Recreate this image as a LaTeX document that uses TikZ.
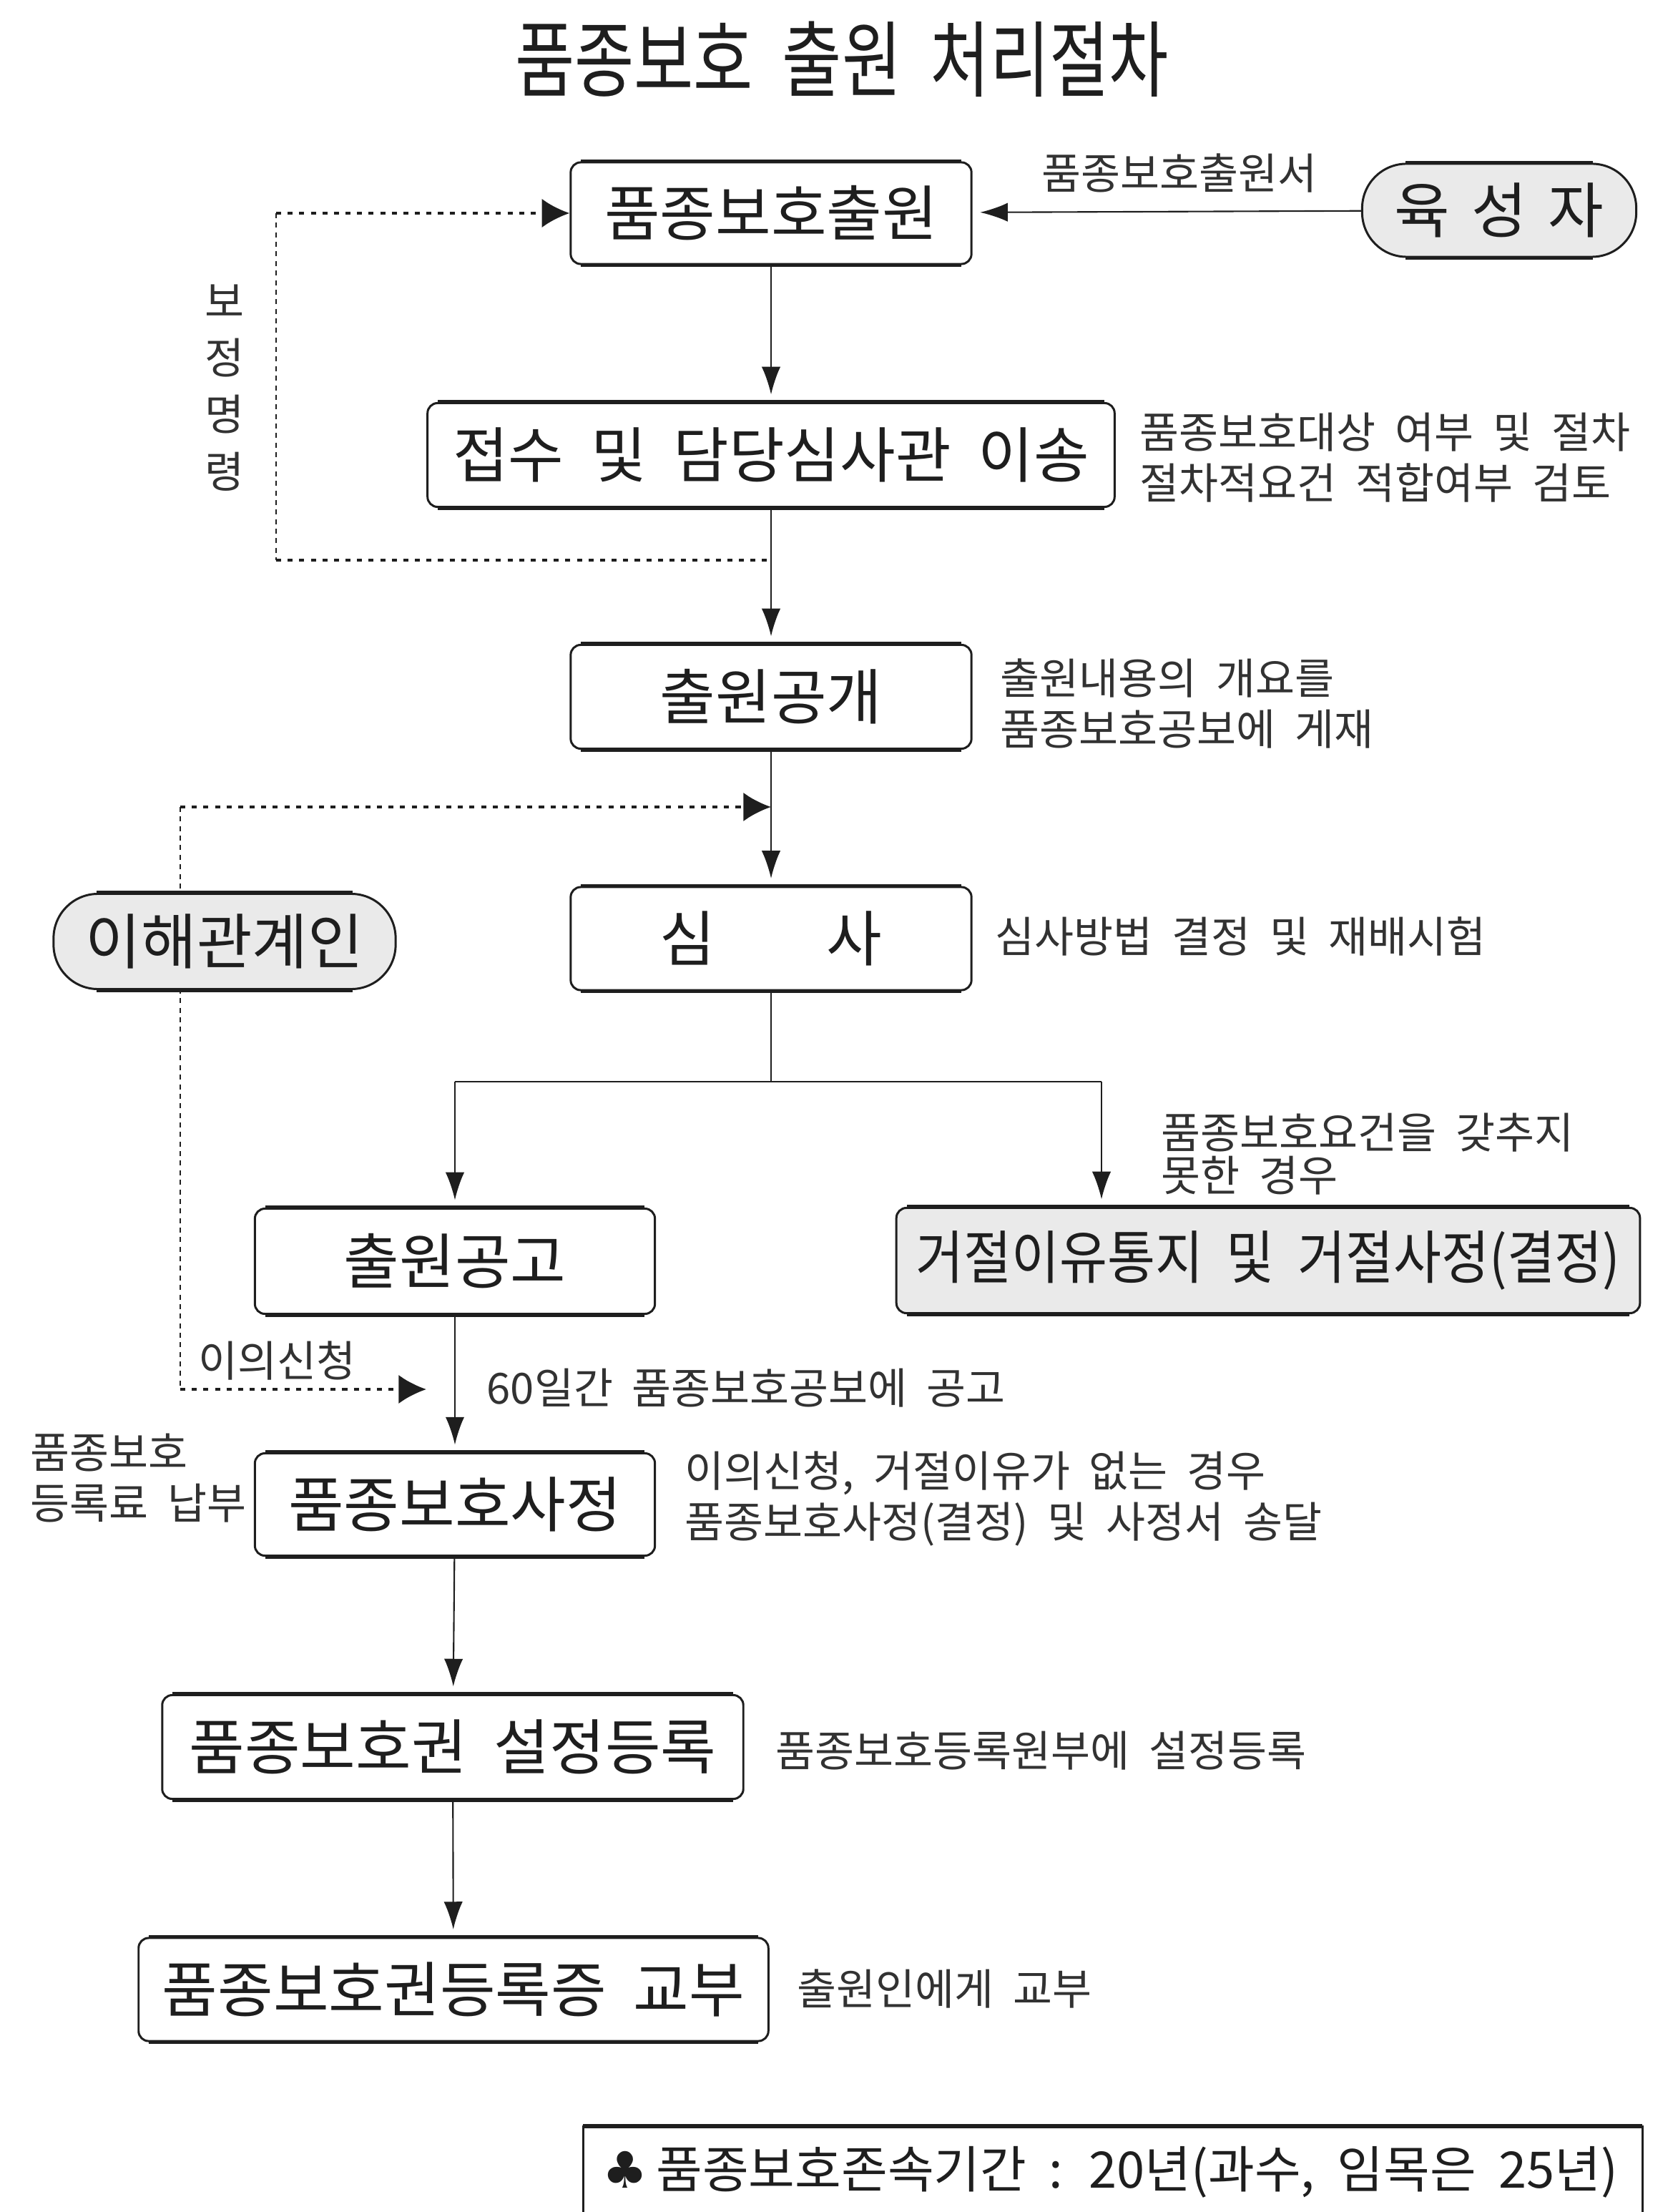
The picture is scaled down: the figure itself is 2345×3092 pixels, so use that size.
\documentclass[tikz,border=0pt]{standalone}
\usepackage{fontspec}
\usepackage{graphicx}
\setmainfont{Noto Sans CJK KR}[WordSpace=2.0]
\newfontfamily\symfont{DejaVu Sans}
\usetikzlibrary{arrows.meta}
\definecolor{boxgray}{RGB}{234,234,234}
\definecolor{ink}{RGB}{30,30,30}
\definecolor{sideink}{RGB}{50,50,50}
\tikzset{
  stepbox/.style={draw=ink, line width=0.85pt, rounded corners=4pt, fill=white,
    inner sep=0pt, text=ink, font=\fontsize{24}{28}\selectfont},
  pillbox/.style={stepbox, rounded corners=0.62cm, fill=boxgray},
  graybox/.style={stepbox, fill=boxgray},
  side/.style={inner sep=0pt, text=sideink, align=left, font=\fontsize{17}{20.2}\selectfont},
  flow/.style={draw=ink, line width=0.6pt, -{Latex[length=11pt,width=7.5pt]}, shorten >=3pt},
  plain/.style={draw=ink, line width=0.6pt},
  hdot/.style={draw=ink, line width=1.1pt, dash pattern=on 2pt off 2.6pt},
  hdotarrow/.style={hdot, -{Latex[length=11pt,width=11.5pt]}},
  vdash/.style={draw=ink, line width=0.5pt, dash pattern=on 2pt off 1.8pt},
  edge/.style={draw=ink, line width=1.5pt}
}
\begin{document}
\begin{tikzpicture}[x=0.01cm,y=-0.01cm]
\useasboundingbox (0,0) rectangle (2345,3092);
\fill[white] (0,0) rectangle (2345,3092);

% title
\node[inner sep=0pt, text=ink, font=\fontsize{33}{36}\selectfont] (title) at (1177,83) {\scalebox{0.78}[1]{품종보호 출원 처리절차}};

% dashed/dotted helper coordinates
\coordinate (l1) at (386,298);
\coordinate (l2) at (386,783);
\coordinate (l3) at (1078,783);
\coordinate (m1) at (252,1128);
\coordinate (m2) at (1078,1128);
\coordinate (m3) at (252,1942);
\coordinate (m4) at (596,1942);
\coordinate (br) at (1078,1512);
\coordinate (bl) at (636,1512);
\coordinate (r1) at (1540,1512);

% background dashed lines (behind pills)
\draw[vdash] (l1) -- (l2);
\draw[vdash] (m1) -- (m3);

% nodes
\node[stepbox, minimum width=5.6cm, minimum height=1.42cm] (b1) at (1078,298) {품종보호출원};
\node[pillbox, minimum width=3.83cm, minimum height=1.3cm] (breeder) at (2096,294) {육\hspace{0.3cm}성\hspace{0.3cm}자};
\node[stepbox, minimum width=9.6cm, minimum height=1.45cm] (b2) at (1078,636) {접수 및 담당심사관 이송};
\node[stepbox, minimum width=5.6cm, minimum height=1.45cm] (b3) at (1078,974) {출원공개};
\node[stepbox, minimum width=5.6cm, minimum height=1.44cm] (b4) at (1078,1312) {심\hspace{1.55cm}사};
\node[pillbox, minimum width=4.78cm, minimum height=1.33cm] (party) at (314,1316) {이해관계인};
\node[stepbox, minimum width=5.59cm, minimum height=1.47cm] (b5) at (636,1763) {출원공고};
\node[graybox, minimum width=10.39cm, minimum height=1.47cm, font=\fontsize{23}{26}\selectfont] (b6) at (1773,1762) {\scalebox{0.9}[1]{거절이유통지 및 거절사정(결정)}};
\node[stepbox, minimum width=5.59cm, minimum height=1.43cm] (b7) at (636,2103) {품종보호사정};
\node[stepbox, minimum width=8.12cm, minimum height=1.45cm] (b8) at (633,2442) {품종보호권 설정등록};
\node[stepbox, minimum width=8.8cm, minimum height=1.44cm] (b9) at (634,2781) {품종보호권등록증 교부};

% thicker top/bottom edges
\foreach \n in {b1,b2,b3,b4,b5,b6,b7,b8,b9}{
  \draw[edge] ([xshift=0.16cm]\n.north west) -- ([xshift=-0.16cm]\n.north east);
  \draw[edge] ([xshift=0.16cm]\n.south west) -- ([xshift=-0.16cm]\n.south east);
}
\foreach \n in {breeder,party}{
  \draw[edge] ([xshift=0.62cm]\n.north west) -- ([xshift=-0.62cm]\n.north east);
  \draw[edge] ([xshift=0.62cm]\n.south west) -- ([xshift=-0.62cm]\n.south east);
}

% connectors
\draw[flow] (breeder) -- (b1);
\draw[hdotarrow] (l1) -- (b1);
\draw[hdot] (l2) -- (l3);
\draw[flow] (b1) -- (b2);
\draw[flow] (b2) -- (b3);
\draw[hdotarrow] (m1) -- (m2);
\draw[flow] (b3) -- (b4);
\draw[plain] (b4) -- (br);
\draw[plain] (bl) -- (r1);
\draw[flow] (bl) -- (b5);
\draw[flow] (r1) -- (r1 |- b6.north);
\draw[hdotarrow] (m3) -- (m4);
\draw[flow] (b5) -- (b7);
\draw[flow] (b7) -- (b8);
\draw[flow] (b8) -- (b9);

% labels
\node[side, anchor=center] (lapp) at (1649,242) {품종보호출원서};
\node[side, anchor=center, align=center, font=\fontsize{17}{22.5}\selectfont] (lcorr) at (314,542) {보\\정\\명\\령};
\node[side, anchor=west] (s2) at (1593,640) {품종보호대상 여부 및 절차\\절차적요건 적합여부 검토};
\node[side, anchor=west] (s3) at (1398,983) {출원내용의 개요를\\품종보호공보에 게재};
\node[side, anchor=west] (s4) at (1391,1309) {심사방법 결정 및 재배시험};
\node[side, anchor=west, font=\fontsize{17}{17.2}\selectfont] (s6) at (1623,1613) {품종보호요건을 갖추지\\못한 경우};
\node[side, anchor=west] (lobj) at (277,1902) {이의신청};
\node[side, anchor=west] (s5) at (680,1940) {60일간 품종보호공보에 공고};
\node[side, anchor=west] (lfee) at (42,2066) {품종보호\\등록료 납부};
\node[side, anchor=west] (s7) at (957,2095) {이의신청, 거절이유가 없는 경우\\품종보호사정(결정) 및 사정서 송달};
\node[side, anchor=west] (s8) at (1084,2447) {품종보호등록원부에 설정등록};
\node[side, anchor=west] (s9) at (1114,2780) {출원인에게 교부};

% bottom note box (open at the page edge)
\draw[draw=ink, line width=0.85pt] (815,3100) -- (815,2972) -- (2296,2972) -- (2296,3100);
\draw[edge] (815,2972) -- (2296,2972);
\node[inner sep=0pt, anchor=west, text=ink, font=\fontsize{20}{24}\selectfont] (note) at (842,3036) {{\symfont ♣}\,품종보호존속기간 : 20년(과수, 임목은 25년)};
\end{tikzpicture}
\end{document}
